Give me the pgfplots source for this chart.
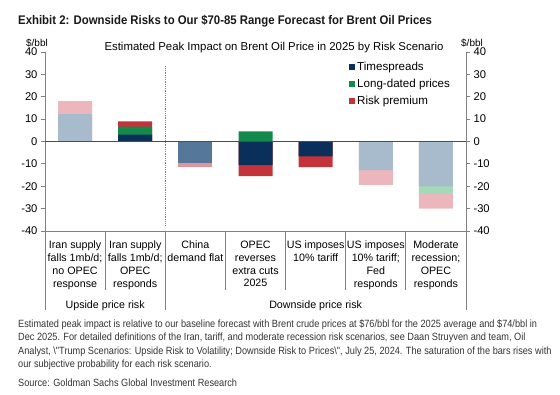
\documentclass[border=0pt]{standalone}
\usepackage{pgfplots}
\pgfplotsset{compat=1.18}
\usepackage{fontspec}
\setmainfont{Liberation Sans}
\newfontfamily\titlefont[FakeStretch=0.91]{Liberation Sans}
\newfontfamily\condfont[FakeStretch=0.875]{Liberation Sans}
\definecolor{navy}{HTML}{0B2F5B}
\definecolor{gsgreen}{HTML}{138A4A}
\definecolor{gsred}{HTML}{C5333A}
\definecolor{ltblue}{HTML}{A8BBCC}
\definecolor{medblue}{HTML}{55779A}
\definecolor{ltpink}{HTML}{EBB7BC}
\definecolor{midpink}{HTML}{E3939A}
\definecolor{ltgreen}{HTML}{A4D9B8}
\definecolor{axgray}{HTML}{808080}
\begin{document}
\begin{tikzpicture}[x=1pt,y=1pt]
\path (0pt,0pt) rectangle (560pt,-394pt);
\node[anchor=base west,inner sep=0, text=black!90] at (18pt,-24pt) {\titlefont\bfseries\fontsize{12.5}{14}\selectfont Exhibit 2: Downside Risks to Our \$70-85 Range Forecast for Brent Oil Prices};
\node[anchor=base,inner sep=0] at (274pt,-50pt) {\fontsize{11.4}{13}\selectfont Estimated Peak Impact on Brent Oil Price in 2025 by Risk Scenario};
\node[anchor=base,inner sep=0] at (37pt,-46pt) {\fontsize{10}{12}\selectfont \$/bbl};
\node[anchor=base,inner sep=0] at (472pt,-46pt) {\fontsize{10}{12}\selectfont \$/bbl};
\begin{axis}[
  at={(45pt,-231pt)}, anchor=south west,
  scale only axis, width=421pt, height=179pt,
  xmin=0.5, xmax=7.5, ymin=-40, ymax=40,
  ytick={-40,-30,...,40},
  xtick={1,...,7},
  xticklabels={{Iran supply\\falls 1mb/d;\\no OPEC\\response},{Iran supply\\falls 1mb/d;\\OPEC\\responds},{China\\demand flat},{OPEC\\reverses\\extra cuts\\2025},{US imposes\\10\% tariff},{US imposes\\10\% tariff;\\Fed\\responds},{Moderate\\recession;\\OPEC\\responds}},
  xticklabel style={align=center, font=\fontsize{10.7}{12.8}\selectfont, yshift=-2.5pt},
  major x tick style={draw=none},
  axis x line*=bottom, axis y line*=left,
  axis line style={axgray, line width=0.8pt},
  tick align=outside, major tick length=4pt,
  y tick style={axgray, line width=0.8pt},
  yticklabel style={font=\fontsize{11.2}{13}\selectfont},
  /pgf/number format/assume math mode=true,
  ybar, bar width=34pt, bar shift=0pt,
  clip=false,
  legend style={at={(0.722,0.955)}, anchor=north west, draw=none, fill=none, font=\fontsize{11.6}{13}\selectfont, row sep=3pt, inner sep=0pt},
  legend cell align=left,
  legend image code/.code={\fill[#1] (0pt,-3pt) rectangle (6pt,3pt);},
]
\addplot[forget plot, fill=ltpink, draw=none] coordinates {(1,18.1) (6,-19.4) (7,-30)};
\addplot[forget plot, fill=gsred, draw=none] coordinates {(2,9.0) (4,-15.5) (5,-11.5)};
\addplot[forget plot, fill=midpink, draw=none] coordinates {(3,-11.3)};
\addplot[forget plot, fill=gsgreen, draw=none] coordinates {(2,6.7) (4,4.5)};
\addplot[forget plot, fill=ltgreen, draw=none] coordinates {(7,-23.1)};
\addplot[forget plot, fill=navy, draw=none] coordinates {(2,3.1) (4,-10.6) (5,-6.7)};
\addplot[forget plot, fill=ltblue, draw=none] coordinates {(1,12.2) (6,-12.8) (7,-20)};
\addplot[forget plot, fill=medblue, draw=none] coordinates {(3,-9.7)};
\addlegendimage{fill=navy, draw=none}
\addlegendentry{Timespreads}
\addlegendimage{fill=gsgreen, draw=none}
\addlegendentry{Long-dated prices}
\addlegendimage{fill=gsred, draw=none}
\addlegendentry{Risk premium}
\draw[black!70, line width=0.9pt] (axis cs:0.5,0) -- (axis cs:7.5,0);
\draw[axgray, densely dotted, line width=0.8pt] (axis cs:2.5,33.7) -- (axis cs:2.5,-37.2);
\draw[axgray, line width=0.8pt] (axis cs:1.5,-40) -- ++(0pt,-59pt);
\draw[axgray, line width=0.8pt] (axis cs:3.5,-40) -- ++(0pt,-59pt);
\draw[axgray, line width=0.8pt] (axis cs:4.5,-40) -- ++(0pt,-59pt);
\draw[axgray, line width=0.8pt] (axis cs:5.5,-40) -- ++(0pt,-59pt);
\draw[axgray, line width=0.8pt] (axis cs:6.5,-40) -- ++(0pt,-59pt);
\draw[axgray, line width=0.8pt] (axis cs:0.5,-40) -- ++(0pt,-79pt);
\draw[axgray, line width=0.8pt] (axis cs:2.5,-40) -- ++(0pt,-79pt);
\draw[axgray, line width=0.8pt] (axis cs:7.5,-40) -- ++(0pt,-79pt);
\node[anchor=base, font=\fontsize{10.7}{12.8}\selectfont] at ([yshift=-77.5pt]axis cs:1.5,-40) {Upside price risk};
\node[anchor=base, font=\fontsize{10.7}{12.8}\selectfont] at ([yshift=-77.5pt]axis cs:5,-40) {Downside price risk};
\end{axis}
\begin{axis}[
  at={(45pt,-231pt)}, anchor=south west,
  scale only axis, width=421pt, height=179pt,
  xmin=0.5, xmax=7.5, ymin=-40, ymax=40,
  ytick={-40,-30,...,40},
  axis x line=none, axis y line*=right,
  axis line style={axgray, line width=0.8pt},
  tick align=outside, major tick length=4pt,
  y tick style={axgray, line width=0.8pt},
  yticklabel style={font=\fontsize{11.2}{13}\selectfont},
  /pgf/number format/assume math mode=true,
]
\end{axis}
\begin{scope}[every node/.style={anchor=base west, inner sep=0, font=\condfont\fontsize{10.5}{13}\selectfont, text=black!80}]
\node at (18pt,-327pt) {Estimated peak impact is relative to our baseline forecast with Brent crude prices at \$76/bbl for the 2025 average and \$74/bbl in};
\node at (18pt,-340.5pt) {Dec 2025. For detailed definitions of the Iran, tariff, and moderate recession risk scenarios, see Daan Struyven and team, Oil};
\node at (18pt,-354pt) {Analyst, \textbackslash"Trump Scenarios: Upside Risk to Volatility; Downside Risk to Prices\textbackslash", July 25, 2024. The saturation of the bars rises with};
\node at (18pt,-367.5pt) {our subjective probability for each risk scenario.};
\node at (18pt,-386pt) {Source: Goldman Sachs Global Investment Research};
\end{scope}
\end{tikzpicture}
\end{document}
